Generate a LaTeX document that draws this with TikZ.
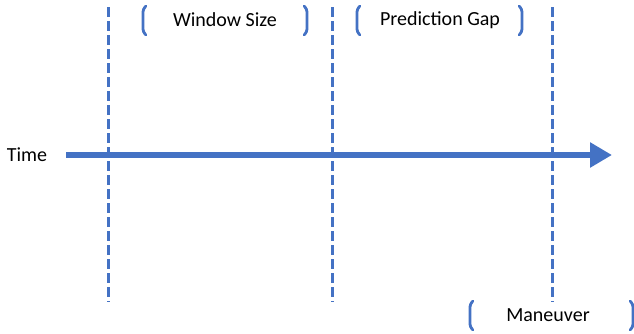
\documentclass[tikz,border=0pt]{standalone}
\usepackage{fontspec}
\setmainfont{Carlito}
\usetikzlibrary{arrows.meta}
\definecolor{offblue}{HTML}{4472C4}
\tikzset{
  lbl/.style={font=\fontsize{20}{22}\selectfont, text=black, inner sep=0pt, anchor=center},
  divider/.style={offblue, line width=3pt, dash pattern=on 10pt off 4pt},
  brk/.style={offblue, line width=2.8pt, rounded corners=3pt, line cap=round},
  timeline/.style={offblue, line width=6pt, -{Triangle[length=22pt,width=24pt]}}
}
\begin{document}
\begin{tikzpicture}[x=1pt,y=-1pt]
\useasboundingbox (0,0) rectangle (634,333);
% dashed dividers
\coordinate (d1t) at (108,7); \coordinate (d1b) at (108,302);
\coordinate (d2t) at (332,7); \coordinate (d2b) at (332,302);
\coordinate (d3t) at (552,7); \coordinate (d3b) at (552,302);
\draw[divider] (d1t) -- (d1b);
\draw[divider] (d2t) -- (d2b);
\draw[divider] (d3t) -- (d3b);
% time axis
\node[lbl] (time) at (27,155) {Time};
\coordinate (as) at (66,155);
\coordinate (ae) at (612,155);
\draw[timeline] (as) -- (ae);
% labels
\node[lbl] (ws) at (225,20) {Window Size};
\node[lbl] (pg) at (440,20) {Prediction Gap};
\node[lbl] (mv) at (548,315) {Maneuver};
% brackets
\draw[brk] (146,6) -- (143,9) -- (143,32) -- (146,35);
\draw[brk] (304,6) -- (307,9) -- (307,32) -- (304,35);
\draw[brk] (360,6) -- (357,9) -- (357,32) -- (360,35);
\draw[brk] (519,6) -- (522,9) -- (522,32) -- (519,35);
\draw[brk] (473,301) -- (470,304) -- (470,327) -- (473,330);
\draw[brk] (630,301) -- (633,304) -- (633,327) -- (630,330);
\end{tikzpicture}
\end{document}
